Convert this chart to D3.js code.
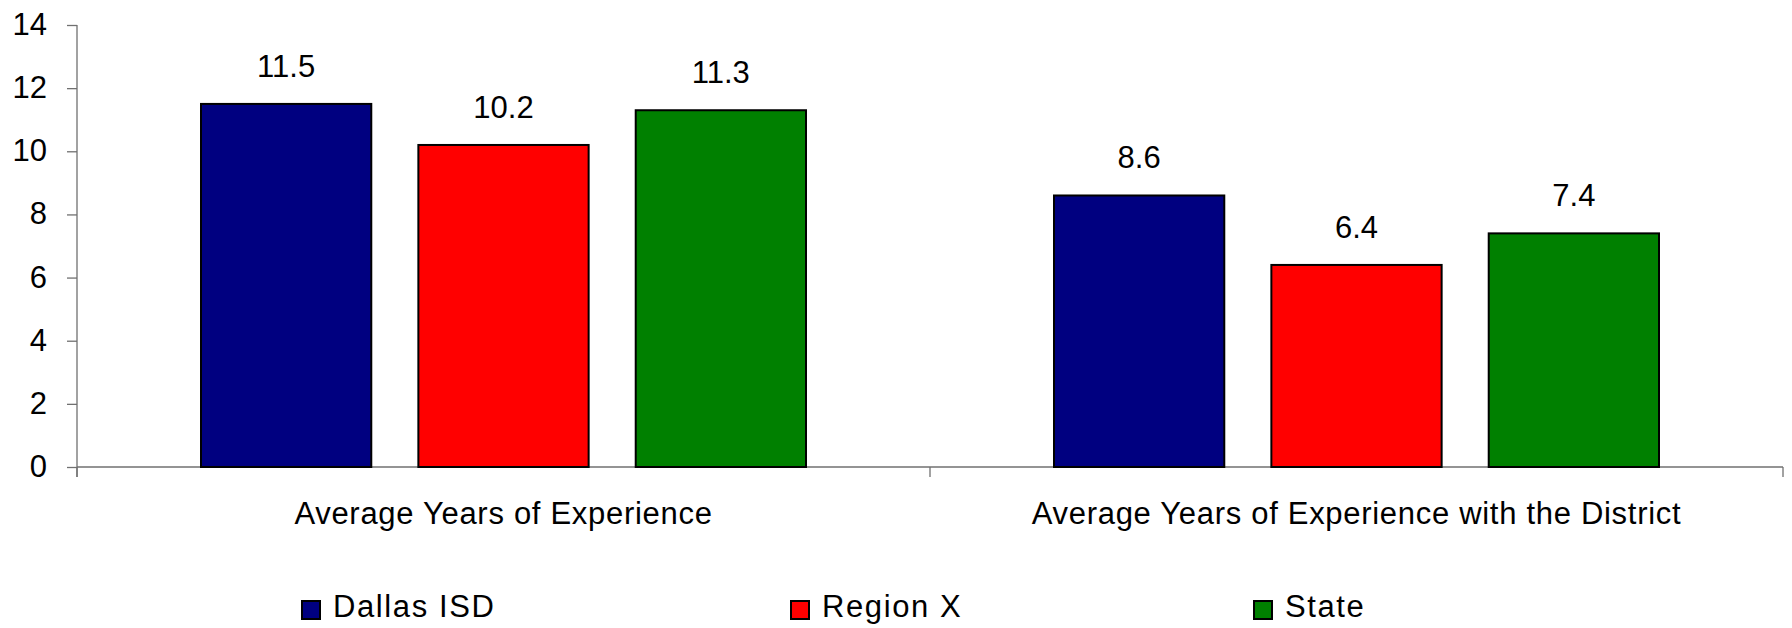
<!DOCTYPE html>
<html>
<head>
<meta charset="utf-8">
<script src="https://cdn.jsdelivr.net/npm/d3@7"></script>
<style>
  html, body { margin: 0; padding: 0; background: #ffffff; }
  svg { display: block; }
  text { font-family: "Liberation Sans", Arial, Helvetica, sans-serif; fill: #000; }
</style>
</head>
<body>
<svg id="chart" width="1792" height="628"></svg>
<script>
// ---- Data ----
const categories = ["Average Years of Experience", "Average Years of Experience with the District"];
const seriesNames = ["Dallas ISD", "Region X", "State"];
const dallasISD = [11.5, 8.6];
const regionX = [10.2, 6.4];
const stateAvg = [11.3, 7.4];
const yTickValues = [0, 2, 4, 6, 8, 10, 12, 14];
const seriesColors = ["#000080", "#FF0000", "#008000"];

const seriesValues = [dallasISD, regionX, stateAvg];

// ---- Layout ----
const W = 1792, H = 628;
const plotLeft = 77, plotRight = 1783, plotTop = 25, plotBottom = 467;
const fontSize = 31;

const svg = d3.select("#chart");

const x0 = d3.scaleBand().domain(categories).range([plotLeft, plotRight]).padding(0);
const innerPad = 124;
const x1 = d3.scaleBand().domain(seriesNames)
  .range([innerPad, x0.bandwidth() - innerPad])
  .paddingInner(0.2166).paddingOuter(0);
const y = d3.scaleLinear().domain([0, 14]).range([plotBottom, plotTop]);

const axisColor = "#707070";

// Y axis
const yAxis = svg.append("g").attr("transform", `translate(${plotLeft},0)`)
  .call(d3.axisLeft(y).tickValues(yTickValues).tickSize(10).tickPadding(20).tickFormat(d3.format("d")));
yAxis.select(".domain").attr("stroke", axisColor).attr("stroke-width", 1.3).attr("d", `M0,${plotTop}V${plotBottom + 10}`);
yAxis.selectAll(".tick line").attr("stroke", axisColor).attr("stroke-width", 1.3);
yAxis.selectAll(".tick text")
  .attr("font-size", fontSize).attr("font-family", "Liberation Sans, Arial, sans-serif")
  .attr("fill", "#000").attr("dy", null).attr("y", 9.5);

// X axis line
const xAxis = svg.append("g").attr("transform", `translate(0,${plotBottom})`);
xAxis.append("line").attr("x1", plotLeft).attr("x2", plotRight).attr("y1", 0).attr("y2", 0)
  .attr("stroke", axisColor).attr("stroke-width", 1.3);
const boundaries = [plotLeft].concat(categories.map(c => x0(c) + x0.bandwidth()));
xAxis.selectAll("line.bnd").data(boundaries).join("line").attr("class", "bnd")
  .attr("x1", d => d).attr("x2", d => d).attr("y1", 0).attr("y2", 10)
  .attr("stroke", axisColor).attr("stroke-width", 1.3);
xAxis.selectAll("text.cat").data(categories).join("text").attr("class", "cat")
  .attr("x", d => x0(d) + x0.bandwidth() / 2).attr("y", 57)
  .attr("text-anchor", "middle").attr("font-size", fontSize).attr("letter-spacing", 0.7)
  .text(d => d);

// Bars
const groups = svg.selectAll("g.grp").data(categories).join("g").attr("class", "grp")
  .attr("transform", d => `translate(${x0(d)},0)`);

groups.each(function(cat, ci) {
  const g = d3.select(this);
  const rows = seriesNames.map((s, si) => ({ s, si, v: seriesValues[si][ci] }));
  g.selectAll("rect").data(rows).join("rect")
    .attr("x", d => x1(d.s)).attr("width", x1.bandwidth())
    .attr("y", d => y(d.v)).attr("height", d => y(0) - y(d.v))
    .attr("fill", d => seriesColors[d.si]).attr("stroke", "#000").attr("stroke-width", 2);
  g.selectAll("text.val").data(rows).join("text").attr("class", "val")
    .attr("x", d => x1(d.s) + x1.bandwidth() / 2).attr("y", d => y(d.v) - 27)
    .attr("text-anchor", "middle").attr("font-size", fontSize)
    .text(d => d3.format(".1f")(d.v));
});

// Legend
const legendX = [301, 790, 1253];
const legend = svg.selectAll("g.leg").data(seriesNames).join("g").attr("class", "leg")
  .attr("transform", (d, i) => `translate(${legendX[i]},600)`);
legend.append("rect").attr("x", 1).attr("y", 1).attr("width", 18).attr("height", 18)
  .attr("fill", (d, i) => seriesColors[i]).attr("stroke", "#000").attr("stroke-width", 2);
legend.append("text").attr("x", 32).attr("y", 17.3).attr("font-size", fontSize).attr("letter-spacing", 1.6)
  .text(d => d);
</script>
</body>
</html>
